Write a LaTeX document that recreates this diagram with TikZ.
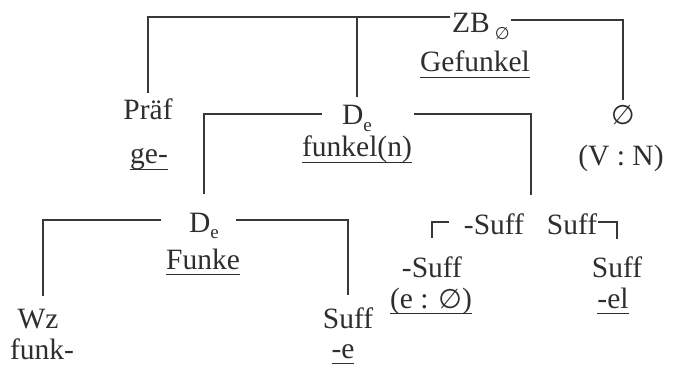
\documentclass[tikz,border=0pt]{standalone}
\usepackage{fontspec}
\setmainfont{Liberation Serif}
\newfontfamily\symf{DejaVu Sans}
\newcommand\ulx[1]{\setbox0\hbox{#1}\rlap{\rule[-6pt]{\wd0}{1.3pt}}\box0}
\newcommand\subx[1]{\raisebox{-0.22em}{\fontsize{19}{19}\selectfont #1}}
\newcommand\nil{{\symf\fontsize{27}{27}\selectfont ∅}}
\begin{document}
\begin{tikzpicture}[x=1pt,y=-1pt,
  txt/.style={inner sep=0pt,anchor=base,text=black!82,font=\fontsize{29.5}{32}\selectfont},
  ln/.style={draw=black!78,line width=1.4pt}]
\useasboundingbox (0,0) rectangle (677,366);
% nodes
\node[txt,anchor=base west] (zb) at (452,33) {ZB\,\subx{\symf\fontsize{17}{17}\selectfont ∅}};
\node[txt] (gef) at (475,72) {\ulx{Gefunkel}};
\node[txt] (praef) at (148,120) {Präf};
\node[txt] (ge) at (149,164) {\ulx{ge-}};
\node[txt] (de1) at (357,125) {D\subx{e}};
\node[txt] (fun) at (357,157) {\ulx{funkel(n)}};
\node[txt] (nul) at (623,125) {\nil};
\node[txt] (vn) at (621,166) {(V : N)};
\node[txt] (de2) at (204,232) {D\subx{e}};
\node[txt] (funke) at (203,269) {\ulx{Funke}};
\node[txt] (wz) at (38,328) {Wz};
\node[txt] (funk) at (42,359) {funk-};
\node[txt] (sufA) at (348,328) {Suff};
\node[txt] (me) at (343,358) {\ulx{-e}};
\node[txt] (msT) at (494,234) {-Suff};
\node[txt] (sT) at (572,234) {Suff};
\node[txt] (ms) at (432,277) {-Suff};
\node[txt] (eo) at (431,308) {\ulx{(e : \nil)}};
\node[txt] (sB) at (617,277) {Suff};
\node[txt] (el) at (613,308) {\ulx{-el}};
% helper levels
\coordinate (ytop) at (0,17);
\coordinate (yr) at (0,20);
\coordinate (ymid) at (0,114);
\coordinate (ylow) at (0,220);
\coordinate (ybar) at (0,222);
\coordinate (j) at (531,195);
% connectors
\draw[ln] ([xshift=-2pt]zb.west |- ytop) -| ([yshift=6pt]praef.north);
\draw[ln] (de1.north |- ytop) -- ([yshift=8pt]de1.north);
\draw[ln] ([xshift=1pt]zb.east |- yr) -| ([yshift=6pt]nul.north);
\draw[ln] ([xshift=-20pt]de1.west |- ymid) -| ([yshift=18pt]de2.north);
\draw[ln] ([xshift=42pt]de1.east |- ymid) -| (j);
\draw[ln] ([xshift=-28pt]de2.west |- ylow) -| ([xshift=5pt,yshift=12pt]wz.north);
\draw[ln] ([xshift=17pt]de2.east |- ylow) -| ([yshift=12pt]sufA.north);
\draw[ln] ([xshift=-15pt]msT.west |- ybar) -| ([yshift=18pt]ms.north);
\draw[ln] ([xshift=1pt]sT.east |- ybar) -| ([yshift=17pt]sB.north);
\end{tikzpicture}
\end{document}
